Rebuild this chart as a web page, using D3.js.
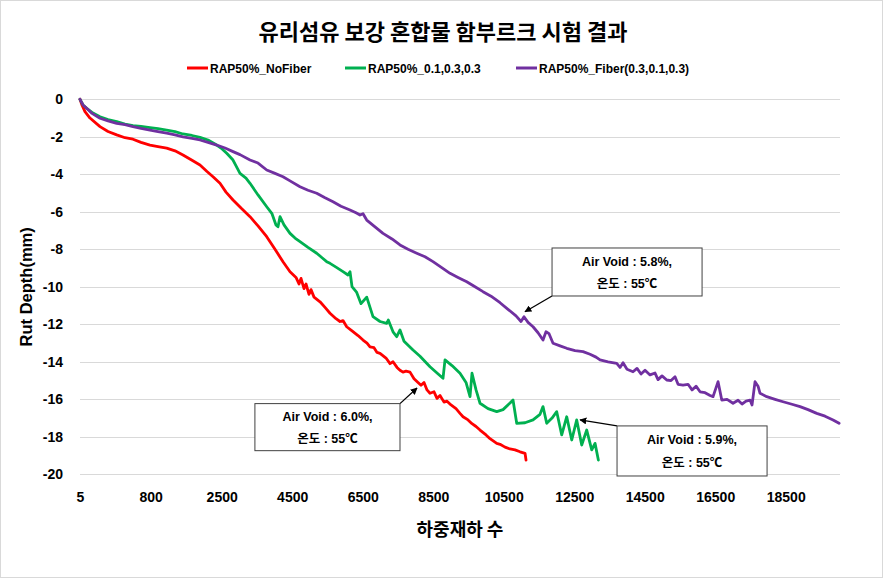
<!DOCTYPE html>
<html>
<head>
<meta charset="utf-8">
<script src="https://cdn.jsdelivr.net/npm/d3@7"></script>
<style>
  html, body { margin: 0; padding: 0; background: #fff; }
  svg text { font-family: "Liberation Sans", "Noto Sans CJK KR", sans-serif; }
</style>
</head>
<body>
<svg id="chart" width="886" height="580"></svg>
<script>
// ---------- data ----------
const chartTitle = "유리섬유 보강 혼합물 함부르크 시험 결과";
const xTitle = "하중재하 수";
const yTitle = "Rut Depth(mm)";
const xTicks = [5, 800, 2500, 4500, 6500, 8500, 10500, 12500, 14500, 16500, 18500];
const yTicks = [0, -2, -4, -6, -8, -10, -12, -14, -16, -18, -20];
const seriesNames = ["RAP50%_NoFiber", "RAP50%_0.1,0.3,0.3", "RAP50%_Fiber(0.3,0.1,0.3)"];
const seriesColors = ["#ff0000", "#00b050", "#7030a0"];

// [load cycles, rut depth (mm)]
const noFiber = [[5,0],[27,-0.3],[61,-0.66],[117,-1.0],[230,-1.46],[320,-1.72],[418,-1.9],[511,-2.05],[601,-2.13],[691,-2.3],
[792,-2.44],[975,-2.52],[1183,-2.6],[1382,-2.75],[1573,-2.97],[1789,-3.25],[1980,-3.5],[2148,-3.85],[2292,-4.13],[2459,-4.48],
[2622,-4.95],[2821,-5.37],[3048,-5.8],[3303,-6.26],[3530,-6.75],[3777,-7.33],[4012,-8.0],[4239,-8.66],[4438,-9.2],[4608,-9.5],
[4693,-9.85],[4750,-9.55],[4835,-10.1],[4892,-9.85],[4977,-10.4],[5033,-10.15],[5119,-10.55],[5289,-10.8],[5431,-11.1],[5572,-11.41],
[5743,-11.7],[5856,-11.85],[5941,-11.8],[6046,-12.13],[6197,-12.35],[6367,-12.6],[6509,-12.84],[6622,-13.0],[6707,-13.2],[6821,-13.25],
[6906,-13.5],[6991,-13.55],[7161,-13.8],[7275,-14.1],[7360,-14.0],[7473,-14.3],[7558,-14.45],[7643,-14.55],[7729,-14.5],[7842,-14.55],
[7956,-14.9],[8069,-15.1],[8154,-15.25],[8239,-15.1],[8324,-15.5],[8409,-15.68],[8523,-15.6],[8608,-15.95],[8693,-15.8],[8807,-16.15],
[8892,-16.1],[9005,-16.3],[9147,-16.5],[9260,-16.75],[9346,-16.93],[9488,-17.1],[9601,-17.3],[9715,-17.45],[9828,-17.64],[9998,-17.9],
[10112,-18.1],[10302,-18.35],[10396,-18.4],[10537,-18.55],[10679,-18.65],[10821,-18.7],[10963,-18.8],[11105,-18.88],[11133,-19.24]];

const fiberA = [[5,0],[39,-0.3],[80,-0.48],[140,-0.7],[230,-0.93],[320,-1.08],[418,-1.19],[511,-1.32],[601,-1.41],[691,-1.45],
[792,-1.51],[975,-1.57],[1183,-1.64],[1382,-1.72],[1573,-1.85],[1789,-1.93],[1980,-2.03],[2172,-2.17],[2380,-2.44],[2483,-2.6],
[2642,-2.88],[2821,-3.24],[3019,-3.95],[3189,-4.2],[3303,-4.48],[3530,-5.1],[3777,-5.73],[3927,-6.1],[4040,-6.7],[4097,-6.8],
[4154,-6.26],[4267,-6.7],[4438,-7.15],[4580,-7.4],[4721,-7.59],[4948,-7.9],[5195,-8.21],[5346,-8.45],[5478,-8.66],[5572,-8.75],
[5743,-8.95],[5941,-9.19],[6083,-9.37],[6140,-9.2],[6197,-9.99],[6330,-10.3],[6452,-10.9],[6614,-10.55],[6792,-11.59],[6991,-11.85],
[7181,-11.95],[7226,-11.77],[7360,-12.4],[7465,-12.66],[7558,-12.3],[7672,-12.9],[7927,-13.37],[8126,-13.7],[8409,-14.26],[8608,-14.6],
[8778,-14.88],[8835,-13.9],[9033,-14.2],[9260,-14.61],[9431,-15.1],[9544,-15.86],[9601,-14.61],[9715,-15.5],[9828,-16.21],[10055,-16.5],
[10302,-16.66],[10481,-16.55],[10679,-16.2],[10764,-16.04],[10869,-17.28],[11105,-17.25],[11332,-17.1],[11530,-16.8],[11615,-16.39],[11720,-17.28],
[11871,-17.0],[12004,-16.66],[12146,-17.9],[12288,-16.93],[12430,-18.17],[12571,-17.1],[12713,-18.44],[12855,-17.64],[12997,-18.7],[13091,-18.35],
[13185,-19.24]];

const fiberB = [[5,0],[39,-0.3],[80,-0.48],[140,-0.75],[230,-1.01],[320,-1.15],[418,-1.28],[511,-1.35],[601,-1.46],[691,-1.55],
[792,-1.64],[975,-1.72],[1183,-1.81],[1382,-1.9],[1573,-2.0],[1789,-2.08],[1980,-2.17],[2172,-2.3],[2380,-2.44],[2594,-2.6],
[2821,-2.79],[3019,-2.95],[3303,-3.24],[3530,-3.4],[3777,-3.77],[4012,-3.95],[4239,-4.13],[4438,-4.35],[4721,-4.66],[4948,-4.85],
[5195,-5.01],[5431,-5.25],[5658,-5.46],[5884,-5.7],[6140,-5.9],[6310,-6.05],[6424,-6.17],[6509,-6.1],[6614,-6.44],[6849,-6.8],
[7076,-7.15],[7331,-7.45],[7558,-7.77],[7785,-8.0],[8032,-8.21],[8267,-8.4],[8494,-8.66],[8721,-8.95],[8977,-9.28],[9204,-9.5],
[9451,-9.73],[9686,-10.0],[9913,-10.26],[10140,-10.5],[10396,-10.85],[10622,-11.2],[10849,-11.55],[10991,-11.85],[11076,-11.6],[11190,-11.9],
[11332,-12.13],[11474,-12.45],[11615,-12.84],[11700,-12.4],[11786,-12.5],[11899,-13.01],[12098,-13.15],[12288,-13.28],[12523,-13.4],[12750,-13.46],
[12949,-13.6],[13119,-13.75],[13233,-13.9],[13460,-14.0],[13706,-14.08],[13800,-14.3],[13885,-14.05],[13998,-14.4],[14168,-14.53],[14282,-14.35],
[14395,-14.65],[14509,-14.45],[14651,-14.7],[14793,-14.6],[14878,-14.95],[14991,-14.75],[15125,-14.97],[15247,-15.0],[15360,-14.8],[15446,-15.2],
[15587,-15.24],[15729,-15.2],[15843,-15.5],[15956,-15.3],[16070,-15.6],[16212,-15.65],[16354,-15.8],[16439,-15.86],[16581,-15.06],[16686,-16.04],
[16836,-16.0],[17006,-16.21],[17148,-16.05],[17261,-16.25],[17375,-16.1],[17488,-16.04],[17545,-16.3],[17630,-15.06],[17715,-15.3],[17772,-15.68],
[17962,-15.86],[18197,-16.0],[18424,-16.13],[18651,-16.25],[18906,-16.39],[19133,-16.55],[19380,-16.75],[19616,-16.9],[19843,-17.1],[20014,-17.28]];

// annotations: box corners and arrow tip in data units (cycles, mm)
const notes = [
  { lines: ["Air Void : 5.8%,", "온도 : 55℃"], box: [11871, -7.93, 16127, -10.49], from: "bl", tip: [11105, -11.33] },
  { lines: ["Air Void : 5.9%,", "온도 : 55℃"], box: [13715, -17.42, 17971, -20.09], from: "tl", tip: [12665, -17.1] },
  { lines: ["Air Void : 6.0%,", "온도 : 55℃"], box: [3442, -16.23, 7558, -18.74], from: "tr", tip: [8041, -15.4] }
];

// ---------- drawing ----------
const svg = d3.select("#chart");

svg.append("rect").attr("x", 0.5).attr("y", 0.5).attr("width", 882).attr("height", 577)
  .attr("fill", "#fff").attr("stroke", "#d9d9d9");

const x = d3.scaleLinear().domain([5, 800, 2500, 20040]).range([80, 150.7, 221.7, 840]);
const y = d3.scaleLinear().domain([-20, 0]).range([474.3, 99.3]);

// gridlines
svg.append("g").selectAll("line").data(yTicks).join("line")
  .attr("x1", 80).attr("x2", 840)
  .attr("y1", d => Math.round(y(d)) + 0.5).attr("y2", d => Math.round(y(d)) + 0.5)
  .attr("stroke", "#d9d9d9").attr("stroke-width", 1);

// axes
const gx = svg.append("g").attr("transform", `translate(0,${y(-20)})`)
  .call(d3.axisBottom(x).tickValues(xTicks).tickFormat(d => String(d)).tickSize(0).tickPadding(18));
gx.select(".domain").remove();
gx.selectAll("text").attr("font-size", 14).attr("font-weight", "bold").attr("fill", "#000")
  .style("font-family", "'Liberation Sans', sans-serif");

const gy = svg.append("g").attr("transform", `translate(80,0)`)
  .call(d3.axisLeft(y).tickValues(yTicks).tickFormat(d => String(d)).tickSize(0).tickPadding(17));
gy.select(".domain").remove();
gy.selectAll("text").attr("font-size", 14).attr("font-weight", "bold").attr("fill", "#000")
  .style("font-family", "'Liberation Sans', sans-serif");

// lines
const line = d3.line().x(d => x(d[0])).y(d => y(d[1]));
[noFiber, fiberA, fiberB].forEach((s, i) => {
  svg.append("path").datum(s).attr("d", line)
    .attr("fill", "none").attr("stroke", seriesColors[i]).attr("stroke-width", 2.8)
    .attr("stroke-linejoin", "round").attr("stroke-linecap", "round");
});

// title
svg.append("text").attr("x", 443).attr("y", 40).attr("text-anchor", "middle")
  .attr("font-size", 22).attr("font-weight", "bold")
  .style("font-family", "'Noto Sans CJK KR', sans-serif").text(chartTitle);

// legend
const legendX = [187, 345, 516];
seriesNames.forEach((n, i) => {
  const g = svg.append("g").attr("transform", `translate(${legendX[i]},68)`);
  g.append("line").attr("x1", 0).attr("x2", 21).attr("y1", 0).attr("y2", 0)
    .attr("stroke", seriesColors[i]).attr("stroke-width", 3);
  g.append("text").attr("x", 23).attr("y", 4.5).attr("font-size", 12).attr("font-weight", "bold").text(n);
});

// axis titles
svg.append("text").attr("transform", `translate(32,${y(-10)}) rotate(-90)`)
  .attr("text-anchor", "middle").attr("font-size", 16.5).attr("font-weight", "bold").text(yTitle);
svg.append("text").attr("x", 460).attr("y", 536).attr("text-anchor", "middle")
  .attr("font-size", 18).attr("font-weight", "bold")
  .style("font-family", "'Noto Sans CJK KR', sans-serif").text(xTitle);

// annotations
const defs = svg.append("defs");
defs.append("marker").attr("id", "arr").attr("viewBox", "0 0 10 10").attr("refX", 9).attr("refY", 5)
  .attr("markerWidth", 7).attr("markerHeight", 7).attr("orient", "auto-start-reverse")
  .attr("markerUnits", "userSpaceOnUse")
  .append("path").attr("d", "M0,0 L10,5 L0,10 z").attr("fill", "#000");

notes.forEach(n => {
  const x1 = x(n.box[0]), y1 = y(n.box[1]), x2 = x(n.box[2]), y2 = y(n.box[3]);
  const sx = n.from.includes("l") ? x1 : x2;
  const sy = n.from.includes("t") ? y1 : y2;
  svg.append("line").attr("x1", sx).attr("y1", sy).attr("x2", x(n.tip[0])).attr("y2", y(n.tip[1]))
    .attr("stroke", "#000").attr("stroke-width", 1.3).attr("marker-end", "url(#arr)");
  svg.append("rect").attr("x", x1).attr("y", y1).attr("width", x2 - x1).attr("height", y2 - y1)
    .attr("fill", "#fff").attr("stroke", "#404040").attr("stroke-width", 1);
  const cx = (x1 + x2) / 2, h = y2 - y1;
  n.lines.forEach((t, k) => {
    svg.append("text").attr("x", cx).attr("y", y1 + h * (k === 0 ? 0.28 : 0.74)).attr("dy", "0.35em")
      .attr("text-anchor", "middle").attr("font-size", 12.5).attr("font-weight", "bold").text(t);
  });
});
</script>
</body>
</html>
